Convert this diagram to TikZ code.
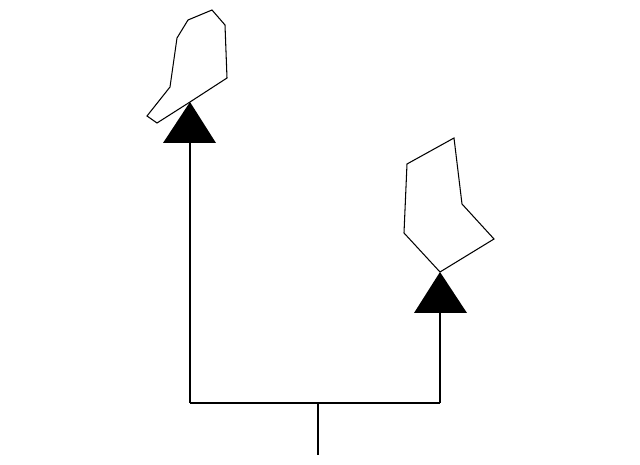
\documentclass[tikz,border=0pt]{standalone}
\begin{document}
\begin{tikzpicture}[x=0.02cm, y=-0.02cm,
    branch/.style={line width=0.6pt},
    marker/.style={fill=black},
    outline/.style={line width=0.6pt, line join=miter}]
    \useasboundingbox (0,0) rectangle (640,465);

    % Tree points
    \coordinate (root) at (318,455);
    \coordinate (fork) at (318,403);
    \coordinate (left) at (190,403);
    \coordinate (right) at (440,403);
    \coordinate (baseA) at (190,143);
    \coordinate (baseB) at (440,313);
    \coordinate (tipA) at (190,102);
    \coordinate (tipB) at (440,272);

    % Draw the branches
    \draw[branch] (root) -- (fork);
    \draw[branch] (left) -- (right);
    \draw[branch] (left) -- (baseA);
    \draw[branch] (right) -- (baseB);

    % Markers at the leaves
    \fill[marker] (163,143) -- (tipA) -- (216,143) -- cycle;
    \fill[marker] (414,313) -- (tipB) -- (467,313) -- cycle;

    % Outlines on top of the markers
    \draw[outline] (tipA) -- (157,123) -- (147,116) -- (170,87) -- (177,38)
        -- (188,20) -- (212,10) -- (225,25) -- (227,78) -- cycle;
    \draw[outline] (tipB) -- (404,233) -- (407,164) -- (454,138)
        -- (462,204) -- (494,239) -- cycle;
\end{tikzpicture}
\end{document}
